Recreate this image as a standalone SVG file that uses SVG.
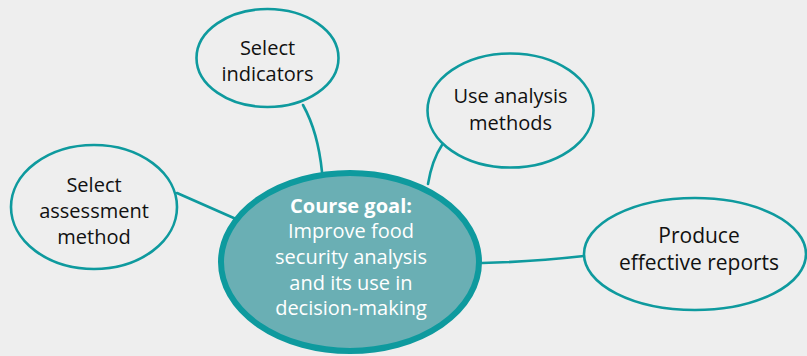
<svg xmlns="http://www.w3.org/2000/svg" width="807" height="356" viewBox="0 0 807 356">
<style>
.bg{fill:#eeeeee}
.node{fill:#eeeeee;stroke:#0e9a9e;stroke-width:2.6}
.center{fill:#6aafb4;stroke:#0e9a9e;stroke-width:6}
.conn{fill:none;stroke:#0e9a9e;stroke-width:2.6;stroke-linecap:round}
text{font-family:"Open Sans","DejaVu Sans",sans-serif;font-size:20px;text-anchor:middle;fill:#111111}
.ct{fill:#ffffff}
.ctb{fill:#ffffff;font-weight:bold}
</style>
<rect class="bg" x="0" y="0" width="807" height="356"/>
<g id="connectors">
<path class="conn" d="M177,193 L236,219"/>
<path class="conn" d="M303,105 Q318,132 322,172"/>
<path class="conn" d="M442,145 Q432,160 428,184"/>
<path class="conn" d="M482,263 Q530,262 584,256"/>
</g>
<g id="node-assessment">
<ellipse class="node" cx="94" cy="207" rx="83" ry="62"/>
<text x="94" y="192">Select</text>
<text x="94" y="218">assessment</text>
<text x="94" y="244">method</text>
</g>
<g id="node-indicators">
<ellipse class="node" cx="267.5" cy="58" rx="71" ry="49"/>
<text x="267.5" y="55">Select</text>
<text x="267.5" y="81">indicators</text>
</g>
<g id="node-analysis">
<ellipse class="node" cx="510.5" cy="110.5" rx="83" ry="57"/>
<text x="510.5" y="103">Use analysis</text>
<text x="510.5" y="130">methods</text>
</g>
<g id="node-reports">
<ellipse class="node" cx="695" cy="254" rx="111" ry="56"/>
<text x="699" y="243" style="font-size:21px">Produce</text>
<text x="699" y="270" style="font-size:21px">effective reports</text>
</g>
<g id="node-goal">
<ellipse class="center" cx="350" cy="262" rx="129" ry="89"/>
<text class="ctb" x="351" y="213">Course goal:</text>
<text class="ct" x="351" y="238">Improve food</text>
<text class="ct" x="351" y="264">security analysis</text>
<text class="ct" x="351" y="290">and its use in</text>
<text class="ct" x="351" y="315">decision-making</text>
</g>
</svg>
